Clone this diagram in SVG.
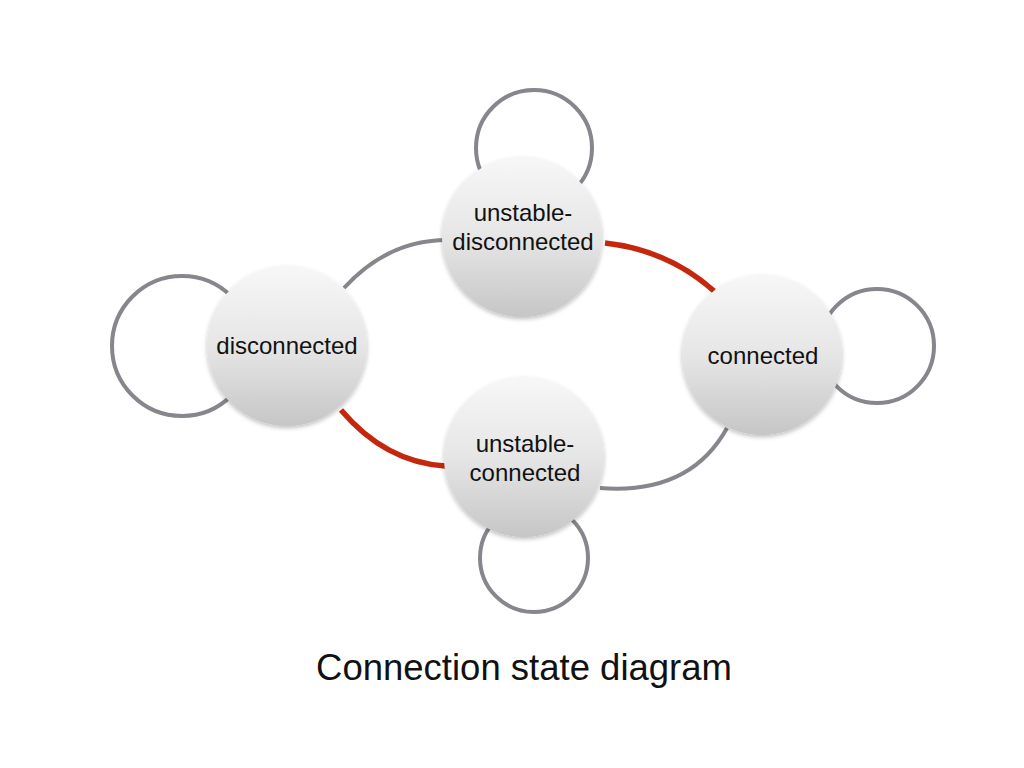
<svg xmlns="http://www.w3.org/2000/svg" width="1024" height="768" viewBox="0 0 1024 768">
  <defs>
    <linearGradient id="nodeFill" x1="0" y1="0" x2="0" y2="1">
      <stop offset="0" stop-color="#f7f7f7"/>
      <stop offset="0.5" stop-color="#e6e6e6"/>
      <stop offset="1" stop-color="#c6c6c6"/>
    </linearGradient>
    <filter id="shadow" x="-20%" y="-20%" width="140%" height="150%">
      <feDropShadow dx="0" dy="2" stdDeviation="2" flood-color="#000" flood-opacity="0.25"/>
    </filter>
  </defs>
  <style>
    .loop { fill: none; stroke: #86878c; stroke-width: 4; }
    .gray { fill: none; stroke: #86878c; stroke-width: 4; stroke-linecap: butt; }
    .red { fill: none; stroke: #c4270c; stroke-width: 5.5; stroke-linecap: butt; }
    .node { fill: url(#nodeFill); filter: url(#shadow); }
    .label { font-family: "Liberation Sans", Arial, sans-serif; font-size: 24px; fill: #111; text-anchor: middle; }
    .caption { font-family: "Liberation Sans", Arial, sans-serif; font-size: 36.5px; fill: #111; text-anchor: middle; }
  </style>
  <rect width="1024" height="768" fill="#ffffff"/>
  <g id="connectors">
    <circle class="loop" cx="534" cy="148" r="58"/>
    <circle class="loop" cx="182" cy="346" r="70"/>
    <circle class="loop" cx="877" cy="346" r="57"/>
    <circle class="loop" cx="534" cy="558" r="54"/>
    <path class="gray" d="M344,288 Q388,240 447,240"/>
    <path class="red" d="M605,243 Q668,250 714,291"/>
    <path class="red" d="M341,410 Q385,462 445,466"/>
    <path class="gray" d="M600,488 Q690,495 727,428"/>
  </g>
  <g id="node-unstable-disconnected">
    <circle class="node" cx="522" cy="237" r="80"/>
    <text class="label" x="523" y="221">unstable-</text>
    <text class="label" x="523" y="250">disconnected</text>
  </g>
  <g id="node-disconnected">
    <circle class="node" cx="287" cy="346" r="80"/>
    <text class="label" x="287" y="354">disconnected</text>
  </g>
  <g id="node-connected">
    <circle class="node" cx="762" cy="355" r="80"/>
    <text class="label" x="763" y="364">connected</text>
  </g>
  <g id="node-unstable-connected">
    <circle class="node" cx="524" cy="457" r="80"/>
    <text class="label" x="525" y="452">unstable-</text>
    <text class="label" x="525" y="481">connected</text>
  </g>
  <text class="caption" x="524" y="680">Connection state diagram</text>
</svg>
